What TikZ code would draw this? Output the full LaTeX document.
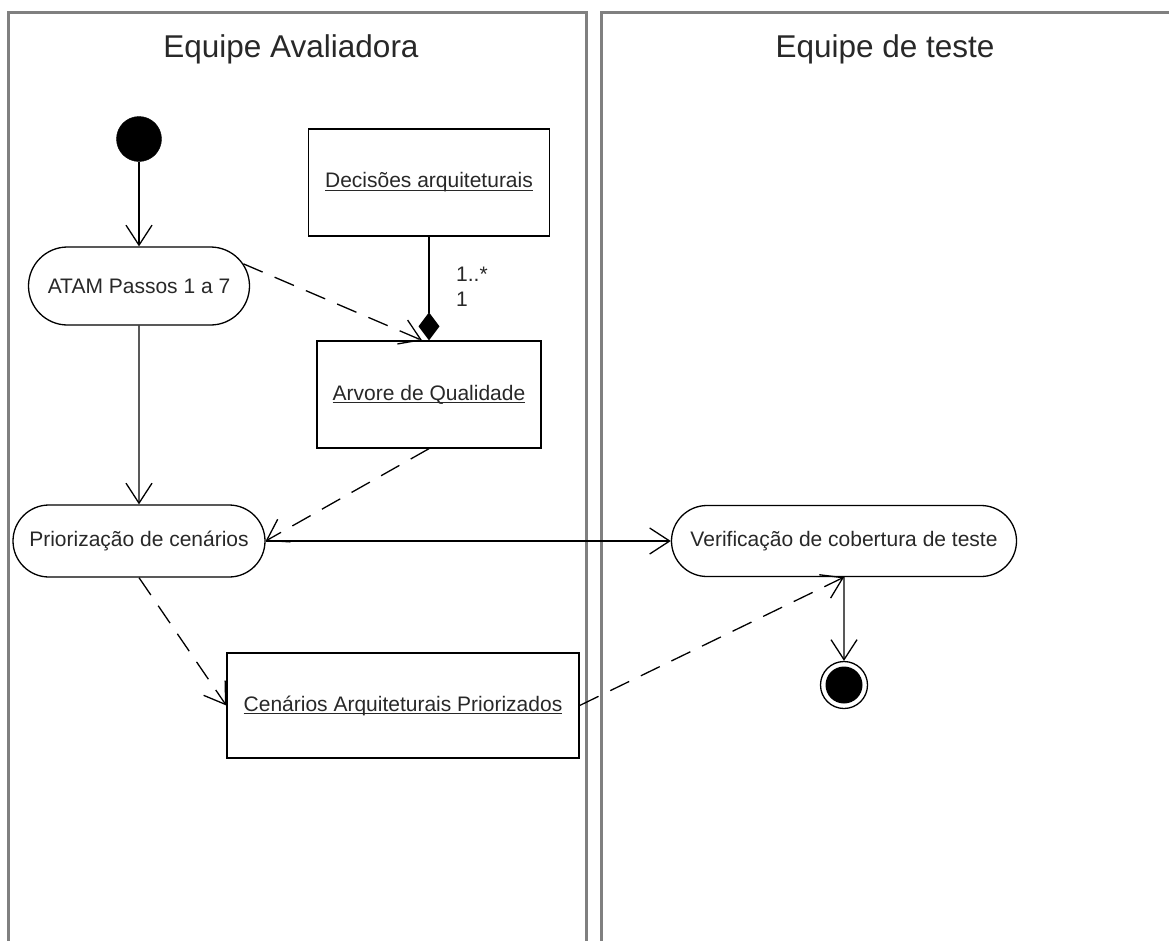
\documentclass[tikz,border=0pt]{standalone}
\usepackage{fontspec}
\setmainfont{Liberation Sans}
\usetikzlibrary{arrows.meta,shapes.misc}

% underlined label with the rule just under the baseline
\newcommand\objlabel[1]{\setbox0\hbox{#1}\leavevmode\rlap{\rule[-3.2pt]{\wd0}{1.1pt}}\box0}

\definecolor{laneline}{RGB}{128,128,128}
\definecolor{ink}{RGB}{40,40,40}

\tikzset{
  lane/.style={draw=laneline, line width=3pt},
  lanetitle/.style={font=\fontsize{31.5}{36}\selectfont, text=ink, anchor=base},
  act/.style={rounded rectangle, draw=black, line width=1.3pt, fill=white,
    inner sep=0pt, font=\fontsize{21}{25}\selectfont, text=ink},
  obj/.style={rectangle, draw=black, line width=1.3pt, fill=white,
    inner sep=0pt, font=\fontsize{21}{25}\selectfont, text=ink},
  initial/.style={circle, fill=black, draw=black, minimum size=45pt, inner sep=0pt},
  final/.style={circle, draw=black, line width=1.3pt, minimum size=47pt, inner sep=0pt,
    path picture={\fill[black] (path picture bounding box.center) circle (18.5pt);}},
  mult/.style={font=\fontsize{21}{24}\selectfont, text=ink, anchor=west, inner sep=0pt},
  open tip/.style={-{Straight Barb[length=20pt,width=26pt,line width=1.3pt]}},
  flow/.style={draw=black, line width=1.3pt, open tip},
  dep/.style={draw=black, line width=1.3pt, dash pattern=on 21pt off 13pt, open tip},
  comp/.style={draw=black, line width=1.3pt, -{Diamond[length=28pt,width=21pt,fill=black]}},
}

\begin{document}
\begin{tikzpicture}[x=1pt,y=-1pt]
\useasboundingbox (0,0) rectangle (1169,940);
\fill[white] (0,0) rectangle (1169,940);

% swimlanes
\draw[lane] (8,945) -- (8,12) -- (586,12) -- (586,945);
\draw[lane] (601,945) -- (601,12) -- (1175,12);
\node[lanetitle] (titleA) at (291,57) {Equipe Avaliadora};
\node[lanetitle] (titleB) at (885,57) {Equipe de teste};

% activities and objects
\node[initial] (ini) at (139,139) {};
\node[act, minimum width=221pt, minimum height=78pt] (atam) at (139,286) {ATAM Passos 1 a 7};
\node[obj, minimum width=241pt, minimum height=107pt] (dec) at (429,182.5) {\objlabel{Decisões arquiteturais}};
\node[obj, minimum width=224pt, minimum height=107pt] (arv) at (429,394.5) {\objlabel{Arvore de Qualidade}};
\node[act, minimum width=252pt, minimum height=72pt] (prior) at (139,541) {Priorização de cenários};
\node[act, minimum width=345pt, minimum height=71pt] (verif) at (844,541) {Verificação de cobertura de teste};
\node[obj, minimum width=352pt, minimum height=105pt] (cen) at (403,705.5) {\objlabel{Cenários Arquiteturais Priorizados}};
\node[final] (fim) at (844,685) {};

% multiplicities
\node[mult] (m1) at (456,274) {1..*};
\node[mult] (m2) at (456,299) {1};

% connectors
\draw[flow] (ini) -- (atam);
\draw[comp] (dec) -- (arv);
\draw[dep] (atam.12) -- ([xshift=-7pt]arv.north);
\draw[flow] (atam) -- (prior);
\draw[dep] (arv.south) -- (prior.east);
\draw[flow] (prior.east) -- (verif.west);
\draw[dep] (prior.south) -- (cen.west);
\draw[dep] (cen.east) -- (verif.south);
\draw[flow] (verif) -- (fim);
\end{tikzpicture}
\end{document}
